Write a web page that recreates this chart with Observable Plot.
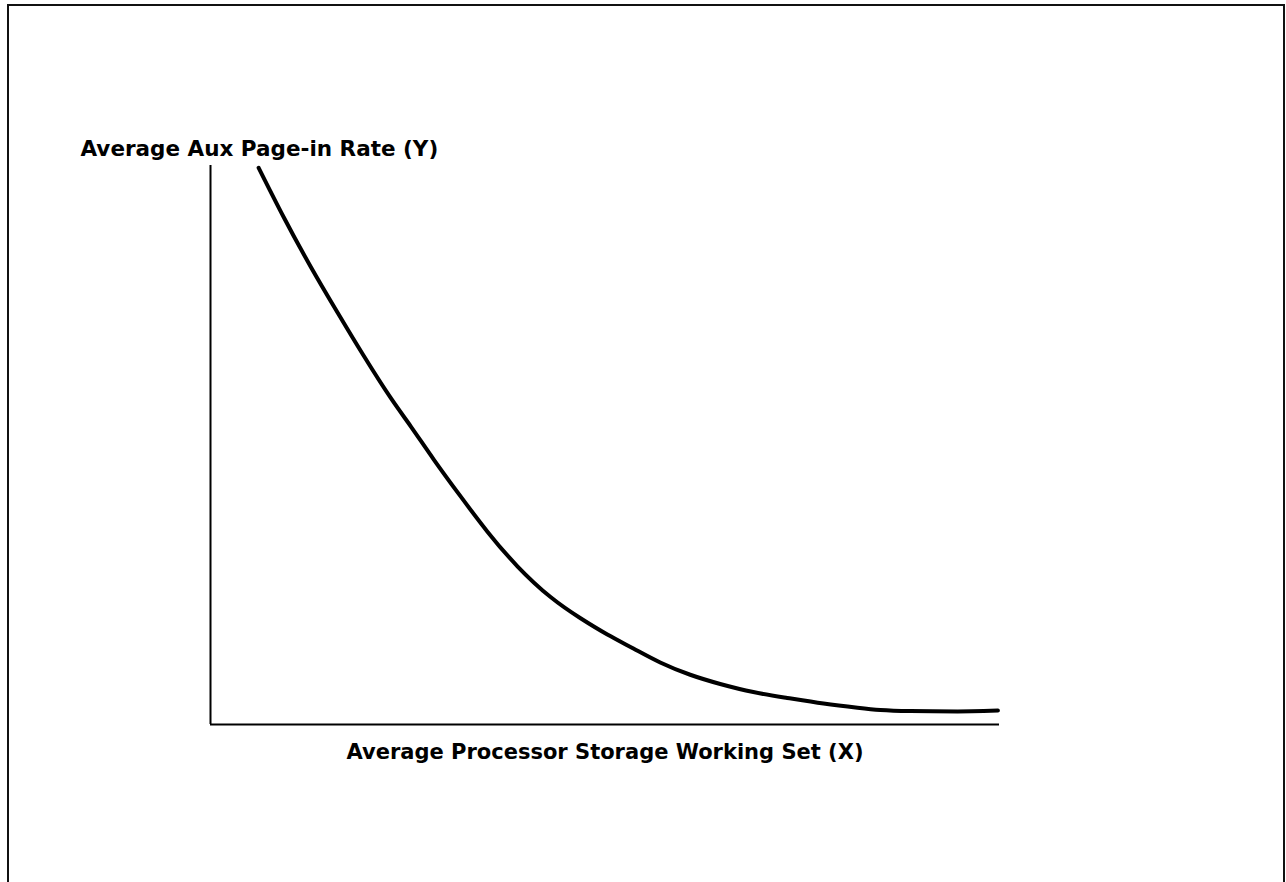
<!DOCTYPE html>
<html>
<head>
<meta charset="utf-8">
<script src="https://cdn.jsdelivr.net/npm/d3@7"></script>
<script src="https://cdn.jsdelivr.net/npm/@observablehq/plot@0.6"></script>
<style>
  html, body { margin: 0; padding: 0; background: #fff; overflow: hidden; }
  #frame {
    position: absolute; left: 7px; top: 4px; width: 1278px; height: 1000px;
    border: 2px solid #111; box-sizing: border-box;
  }
  #chart { position: absolute; left: 0; top: 0; }
</style>
</head>
<body>
<div id="frame"></div>
<div id="chart"></div>
<script>
// Working set (X, arbitrary units 0–100) and aux page-in rate (Y, arbitrary units 0–100)
const workingSet = [6.1, 9.3, 12.7, 16.1, 19.4, 22.8, 25.4, 28.3, 31.7, 35.1, 38.9, 43.1, 46.9, 50.3, 53.6, 57.0, 60.8, 64.6, 68.8, 73.1, 77.7, 82.0, 84.9, 88.7, 94.7, 98.0, 99.8];
const pageInRate = [99.6, 90.7, 81.9, 73.7, 66.0, 58.5, 53.3, 47.4, 40.8, 34.5, 28.3, 22.8, 19.0, 16.1, 13.6, 11.1, 8.9, 7.25, 5.8, 4.75, 3.75, 3.0, 2.6, 2.4, 2.33, 2.4, 2.5];
const xLabel = "Average Processor Storage Working Set (X)";
const yLabel = "Average Aux Page-in Rate (Y)";

const data = workingSet.map((x, i) => ({x, y: pageInRate[i]}));

const font = "'DejaVu Sans', sans-serif";

const chart = Plot.plot({
  width: 1286,
  height: 882,
  marginLeft: 210,
  marginRight: 287,
  marginTop: 165,
  marginBottom: 158,
  style: {background: "transparent", fontFamily: font},
  x: {domain: [0, 100], axis: null},
  y: {domain: [0, 100], axis: null},
  marks: [
    Plot.ruleX([0], {stroke: "#000", strokeWidth: 2}),
    Plot.ruleY([0], {stroke: "#000", strokeWidth: 2}),
    Plot.line(data, {x: "x", y: "y", stroke: "#000", strokeWidth: 4, curve: "natural", strokeLinecap: "round"}),
    Plot.text([yLabel], {frameAnchor: "top-left", dx: -130, dy: -10, textAnchor: "start", lineAnchor: "bottom",
      fontSize: 21.5, fontWeight: "bold", fill: "#000"}),
    Plot.text([xLabel], {frameAnchor: "bottom", dy: 34, lineAnchor: "bottom",
      fontSize: 21, fontWeight: "bold", fill: "#000"})
  ]
});
document.getElementById("chart").appendChild(chart);
</script>
</body>
</html>
